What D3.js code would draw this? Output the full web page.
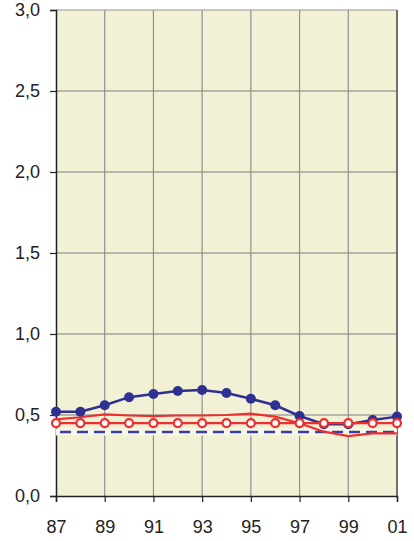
<!DOCTYPE html>
<html><head><meta charset="utf-8">
<script src="https://cdn.jsdelivr.net/npm/d3@7"></script>
<style>body{margin:0;background:#fff;} text{font-family:"Liberation Sans",Arial,sans-serif;}</style>
</head><body>
<svg id="c" width="414" height="541"></svg>
<script>
const years = [1987,1988,1989,1990,1991,1992,1993,1994,1995,1996,1997,1998,1999,2000,2001];
const blueDots = [0.52,0.52,0.56,0.61,0.63,0.648,0.654,0.636,0.60,0.56,0.494,0.443,0.443,0.469,0.49];
const redSolid = [0.473,0.486,0.504,0.497,0.493,0.497,0.497,0.50,0.508,0.49,0.449,0.397,0.37,0.387,0.387];
const redCircles = [0.45,0.45,0.45,0.45,0.45,0.45,0.45,0.45,0.45,0.45,0.45,0.45,0.45,0.45,0.45];
const blueDashed = [0.395,0.395,0.395,0.395,0.395,0.395,0.395,0.395,0.395,0.395,0.395,0.395,0.395,0.395,0.395];
const yTicks = [0,0.5,1.0,1.5,2.0,2.5,3.0];
const xTicks = [1987,1989,1991,1993,1995,1997,1999,2001];

const svg = d3.select("#c");
const L=56,R=397,T=10,B=496;
const x = d3.scaleLinear().domain([1987,2001]).range([L,R]);
const y = d3.scaleLinear().domain([0,3]).range([B,T]);
const fmtY = d => d3.format(".1f")(d).replace(".",",");
const fmtX = d => String(d%100).padStart(2,"0");

svg.append("rect").attr("x",L).attr("y",T).attr("width",R-L).attr("height",B-T).attr("fill","#f3f1d5");
// grid
svg.append("g").selectAll("line").data(yTicks.filter(d=>d>0&&d<3)).join("line")
 .attr("x1",L).attr("x2",R).attr("y1",d=>y(d)).attr("y2",d=>y(d)).attr("stroke","#7f8080").attr("stroke-width",1.2);
svg.append("g").selectAll("line").data(xTicks.filter(d=>d>1987&&d<2001)).join("line")
 .attr("x1",d=>x(d)).attr("x2",d=>x(d)).attr("y1",T).attr("y2",B).attr("stroke","#8f9090").attr("stroke-width",1.2);
// frame top/right
svg.append("line").attr("x1",L).attr("x2",R).attr("y1",T).attr("y2",T).attr("stroke","#999").attr("stroke-width",1.2);
svg.append("line").attr("x1",R).attr("x2",R).attr("y1",T).attr("y2",B).attr("stroke","#444").attr("stroke-width",1.5);

// axes
const ya = svg.append("g").attr("transform",`translate(${L},0)`).call(d3.axisLeft(y).tickValues(yTicks).tickFormat(fmtY).tickSize(6).tickPadding(10));
const xa = svg.append("g").attr("transform",`translate(0,${B})`).call(d3.axisBottom(x).tickValues(xTicks).tickFormat(fmtX).tickSize(6).tickPadding(18));
[ya,xa].forEach(a=>{a.select(".domain").attr("stroke","#222").attr("stroke-width",1.5);
 a.selectAll(".tick line").attr("stroke","#222").attr("stroke-width",1.2);
 a.selectAll("text").attr("font-size",18).attr("fill","#222").attr("font-family","Liberation Sans, Arial, sans-serif");});

const line = d3.line().x((d,i)=>x(years[i])).y(d=>y(d));
const blue="#2e3192", red="#ee2f2f";
// blue dashed with halo
svg.append("path").datum(blueDashed).attr("d",line).attr("fill","none").attr("stroke","#f8f7e6").attr("stroke-width",7);
svg.append("path").datum(blueDashed).attr("d",line).attr("fill","none").attr("stroke","#3a3f9e").attr("stroke-width",2.6).attr("stroke-dasharray","11,6").attr("stroke-dashoffset",-4);
// red solid
svg.append("path").datum(redSolid).attr("d",line).attr("fill","none").attr("stroke",red).attr("stroke-width",2.2);
// blue dots
svg.append("path").datum(blueDots).attr("d",line).attr("fill","none").attr("stroke",blue).attr("stroke-width",2.5);
svg.append("g").selectAll("circle").data(blueDots).join("circle").attr("cx",(d,i)=>x(years[i])).attr("cy",d=>y(d)).attr("r",5).attr("fill",blue);
// red circles
svg.append("path").datum(redCircles).attr("d",line).attr("fill","none").attr("stroke",red).attr("stroke-width",2.2);
svg.append("g").selectAll("circle").data(redCircles).join("circle").attr("cx",(d,i)=>x(years[i])).attr("cy",d=>y(d)).attr("r",4).attr("fill","#fff").attr("stroke",red).attr("stroke-width",2.2);
</script>
</body></html>
